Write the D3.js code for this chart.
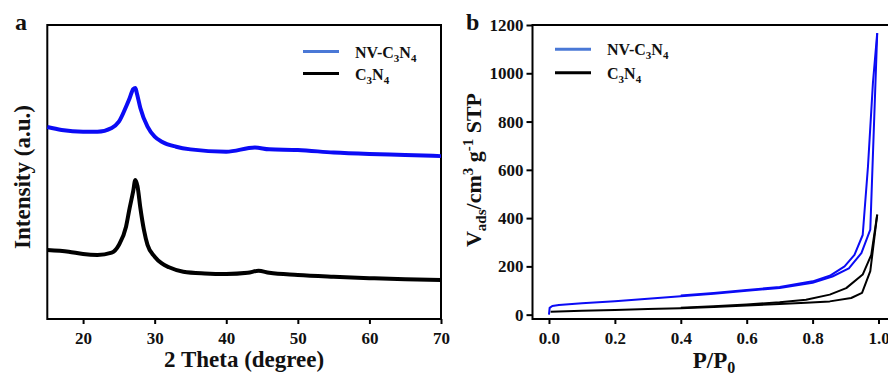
<!DOCTYPE html>
<html>
<head>
<meta charset="utf-8">
<script src="https://cdn.jsdelivr.net/npm/d3@7"></script>
<style>
    body { margin: 0; background: #fff; }
    #chart { width: 888px; height: 378px; }
</style>
</head>
<body>
<div id="chart"></div>
<script>
//Datos - panel a (XRD)
const xrdTheta_nv = [15, 17, 20, 22, 24, 25, 26, 26.5, 27, 27.3, 27.5, 28, 29, 30, 31, 33, 35, 40, 44, 46, 50, 55, 60, 65, 70];
const xrdInt_nv = [65.3, 64.3, 63.7, 63.7, 65.0, 67.1, 72.2, 75.1, 78.2, 78.6, 76.9, 71.8, 65.4, 62.0, 60.3, 58.6, 57.7, 56.9, 58.3, 57.7, 57.5, 56.6, 56.1, 55.8, 55.4];
const xrdTheta_cn = [15, 18, 20, 22, 24, 25, 26, 26.5, 27, 27.3, 27.6, 28, 28.5, 29, 30, 31, 32, 34, 37, 40, 43, 44.5, 46, 50, 55, 60, 65, 70];
const xrdInt_cn = [23.5, 22.9, 22.1, 21.8, 22.6, 25.2, 31.4, 37.7, 43.5, 47.3, 45.2, 37.8, 30.3, 25.2, 21.2, 18.9, 17.6, 16.1, 15.5, 15.3, 15.7, 16.4, 15.7, 15.0, 14.4, 13.9, 13.5, 13.3];
const xrdTicks = [20, 30, 40, 50, 60, 70];

//Datos - panel b (isotermas)
const nvAdsP = [0.0, 0.002, 0.01, 0.03, 0.1, 0.2, 0.3, 0.4, 0.5, 0.6, 0.7, 0.8, 0.86, 0.91, 0.948, 0.975, 0.996];
const nvAdsV = [0, 28, 36, 40, 47, 56, 66, 76, 87, 99, 110, 132, 158, 192, 255, 352, 1166];
const nvDesP = [0.996, 0.983, 0.968, 0.952, 0.927, 0.897, 0.852, 0.8, 0.7, 0.6, 0.5, 0.4];
const nvDesV = [1166, 959, 614, 330, 248, 200, 161, 138, 115, 102, 90, 79];
const cnAdsP = [0.005, 0.1, 0.2, 0.3, 0.4, 0.5, 0.6, 0.7, 0.78, 0.852, 0.917, 0.95, 0.975, 0.996];
const cnAdsV = [12, 16, 19, 23, 27, 32, 38, 44, 49, 55, 69, 90, 180, 414];
const cnDesP = [0.996, 0.978, 0.952, 0.902, 0.852, 0.78, 0.7, 0.6, 0.5, 0.4];
const cnDesV = [414, 248, 166, 110, 83, 62, 51, 42, 35, 29];
const isoXTicks = [0, 0.2, 0.4, 0.6, 0.8, 1.0];
const isoYTicks = [0, 200, 400, 600, 800, 1000, 1200];

const COLOR_BLUE = '#0b0bf5',
COLOR_LEGEND_BLUE = '#4a78d6',
COLOR_BLACK = '#000';

function zip(a, b) {
    return a.map(function(d, i) { return [d, b[i]]; });
}

let svg = d3.select('#chart')
    .append('svg')
    .attr('width', 888)
    .attr('height', 378);

//Leyenda con subíndices
function addLegend(x, y, color, label) {
    svg.append('line')
        .attr('x1', x).attr('x2', x + 36)
        .attr('y1', y).attr('y2', y)
        .attr('stroke', color)
        .attr('stroke-width', 3);
    let t = svg.append('text')
        .attr('x', x + 52)
        .attr('y', y + 6)
        .attr('font-size', 16);
    label.forEach(function(p) {
        let s = t.append('tspan').text(p[0]);
        if (p[1] == 'sub') s.attr('dy', 4).attr('font-size', 11);
        if (p[1] == 'up') s.attr('dy', -4);
    });
}

const NV_LABEL = [['NV-C', ''], ['3', 'sub'], ['N', 'up'], ['4', 'sub']];
const CN_LABEL = [['C', ''], ['3', 'sub'], ['N', 'up'], ['4', 'sub']];

function styleAxis(g) {
    g.select('.domain').remove();
    g.selectAll('line').attr('stroke-width', 2);
    g.selectAll('text').attr('font-size', 17);
}

/////
// Panel a
/////
let xa = d3.scaleLinear().domain([15, 70]).range([47.3, 441]);
let ya = d3.scaleLinear().domain([0, 100]).range([319, 25]);

svg.append('rect')
    .attr('x', xa(15)).attr('y', ya(100))
    .attr('width', xa(70) - xa(15)).attr('height', ya(0) - ya(100))
    .attr('fill', 'none')
    .attr('stroke', '#000')
    .attr('stroke-width', 2);

svg.append('g')
    .attr('transform', 'translate(0,' + ya(0) + ')')
    .call(d3.axisBottom(xa).tickValues(xrdTicks).tickSize(5).tickPadding(8))
    .call(styleAxis);

let lineA = d3.line()
    .x(function(d) { return xa(d[0]); })
    .y(function(d) { return ya(d[1]); })
    .curve(d3.curveMonotoneX);

svg.append('path')
    .datum(zip(xrdTheta_nv, xrdInt_nv))
    .attr('d', lineA)
    .attr('fill', 'none')
    .attr('stroke', COLOR_BLUE)
    .attr('stroke-width', 4);

svg.append('path')
    .datum(zip(xrdTheta_cn, xrdInt_cn))
    .attr('d', lineA)
    .attr('fill', 'none')
    .attr('stroke', COLOR_BLACK)
    .attr('stroke-width', 4);

svg.append('text')
    .attr('x', (xa(15) + xa(70)) / 2)
    .attr('y', 367)
    .attr('text-anchor', 'middle')
    .attr('font-size', 23)
    .text('2 Theta (degree)');

svg.append('text')
    .attr('transform', 'translate(30,177)rotate(-90)')
    .attr('text-anchor', 'middle')
    .attr('font-size', 23)
    .text('Intensity (a.u.)');

svg.append('text')
    .attr('x', 15).attr('y', 30)
    .attr('font-size', 24)
    .text('a');

addLegend(303, 51.5, COLOR_LEGEND_BLUE, NV_LABEL);
addLegend(303, 73.5, COLOR_BLACK, CN_LABEL);

/////
// Panel b
/////
let xb = d3.scaleLinear().domain([-0.05, 1.05]).range([532.5, 895]);
let yb = d3.scaleLinear().domain([-18, 1200]).range([319, 25]);

svg.append('rect')
    .attr('x', xb(-0.05)).attr('y', yb(1200))
    .attr('width', xb(1.05) - xb(-0.05)).attr('height', yb(-18) - yb(1200))
    .attr('fill', 'none')
    .attr('stroke', '#000')
    .attr('stroke-width', 2);

svg.append('g')
    .attr('transform', 'translate(0,' + yb(-18) + ')')
    .call(d3.axisBottom(xb).tickValues(isoXTicks).tickFormat(d3.format('.1f')).tickSize(5).tickPadding(8))
    .call(styleAxis);

svg.append('g')
    .attr('transform', 'translate(' + xb(-0.05) + ',0)')
    .call(d3.axisLeft(yb).tickValues(isoYTicks).tickFormat(d3.format('d')).tickSize(6).tickPadding(3))
    .call(styleAxis);

let lineB = d3.line()
    .x(function(d) { return xb(d[0]); })
    .y(function(d) { return yb(d[1]); })
    .curve(d3.curveLinear);

[[nvAdsP, nvAdsV, COLOR_BLUE], [nvDesP, nvDesV, COLOR_BLUE], [cnAdsP, cnAdsV, COLOR_BLACK], [cnDesP, cnDesV, COLOR_BLACK]].forEach(function(s) {
    svg.append('path')
        .datum(zip(s[0], s[1]))
        .attr('d', lineB)
        .attr('fill', 'none')
        .attr('stroke', s[2])
        .attr('stroke-width', 2)
        .attr('stroke-linejoin', 'round');
});

svg.append('text')
    .attr('x', 714)
    .attr('y', 368)
    .attr('text-anchor', 'middle')
    .attr('font-size', 23)
    .call(function(t) {
        t.append('tspan').text('P/P');
        t.append('tspan').attr('dy', 5).attr('font-size', 16).text('0');
    });

svg.append('text')
    .attr('transform', 'translate(481,170)rotate(-90)')
    .attr('text-anchor', 'middle')
    .attr('font-size', 22)
    .call(function(t) {
        t.append('tspan').text('V');
        t.append('tspan').attr('dy', 5).attr('font-size', 15).text('ads');
        t.append('tspan').attr('dy', -5).text('/cm');
        t.append('tspan').attr('dy', -8).attr('font-size', 15).text('3');
        t.append('tspan').attr('dy', 8).text(' g');
        t.append('tspan').attr('dy', -8).attr('font-size', 15).text('-1');
        t.append('tspan').attr('dy', 8).text(' STP');
    });

svg.append('text')
    .attr('x', 466).attr('y', 30)
    .attr('font-size', 24)
    .text('b');

addLegend(555, 49.3, COLOR_LEGEND_BLUE, NV_LABEL);
addLegend(555, 72.7, COLOR_BLACK, CN_LABEL);

//Fuente: Times (Liberation Serif) en negrita para todos los textos
svg.selectAll('g').attr('font-family', null);
svg.selectAll('text')
    .attr('font-family', 'Liberation Serif')
    .attr('font-weight', 'bold')
    .attr('fill', '#111');
</script>
</body>
</html>
